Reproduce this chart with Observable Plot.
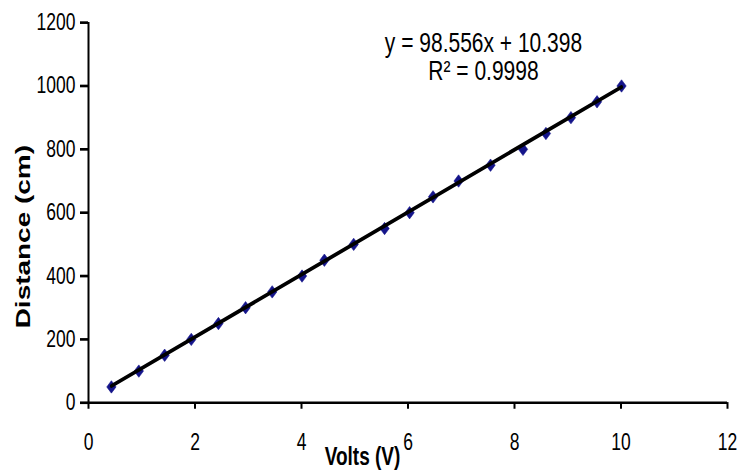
<!DOCTYPE html>
<html>
<head>
<meta charset="utf-8">
<script src="https://cdn.jsdelivr.net/npm/d3@7"></script>
<script src="https://cdn.jsdelivr.net/npm/@observablehq/plot@0.6"></script>
<style>
  html, body { margin: 0; padding: 0; background: #fff; }
  #chart svg { display: block; }
</style>
</head>
<body>
<div id="chart"></div>
<script>
const volts = [0.43, 0.945, 1.43, 1.93, 2.44, 2.95, 3.45, 4.01, 4.43, 4.98, 5.56, 6.03, 6.47, 6.95, 7.55, 8.16, 8.59, 9.06, 9.55, 10.01];
const distance = [50, 100, 150, 200, 250, 300, 350, 400, 450, 500, 550, 600, 650, 700, 750, 800, 850, 900, 950, 1000];
const slope = 98.556;
const intercept = 10.398;
const eqLines = ["y = 98.556x + 10.398", "R² = 0.9998"];
const xTicks = [0, 2, 4, 6, 8, 10, 12];
const yTicks = [0, 200, 400, 600, 800, 1000, 1200];
const xTitle = "Volts (V)";
const yTitle = "Distance (cm)";

const points = volts.map((v, i) => ({v, d: distance[i]}));
const xMin = d3.min(volts), xMax = d3.max(volts);
const trend = [{v: xMin, d: slope * xMin + intercept}, {v: xMax, d: slope * xMax + intercept}];

const font = "'Liberation Sans', Arial, sans-serif";
// The reference image is stretched vertically; draw in a shorter frame and stretch the SVG.
const W = 744, H = 470, S = 1.33;
const VH = Math.round(H / S);

const chart = Plot.plot({
  width: W,
  height: VH,
  marginLeft: 88,
  marginRight: 17,
  marginTop: 16.5,
  marginBottom: VH - 302,
  style: {fontFamily: font, fontSize: "17.5px", color: "#000", background: "#fff"},
  x: {domain: [0, 12], ticks: xTicks},
  y: {domain: [0, 1200], ticks: yTicks},
  marks: [
    Plot.axisX({ticks: xTicks, tickSize: 5, tickPadding: 18, stroke: "#000", strokeWidth: 2, fontSize: 17.5, label: null, tickFormat: d => String(d)}),
    Plot.axisY({ticks: yTicks, tickSize: 8, tickPadding: 5, stroke: "#000", strokeWidth: 2, fontSize: 17.5, label: null, tickFormat: d => String(d)}),
    Plot.ruleX([0], {stroke: "#000", strokeWidth: 2}),
    Plot.ruleY([0], {stroke: "#000", strokeWidth: 1.8}),
    Plot.dot(points, {x: "v", y: "d", symbol: "diamond2", r: 4.2, fill: "#14148a", stroke: "#14148a", strokeWidth: 0.5}),
    Plot.line(trend, {x: "v", y: "d", stroke: "#000", strokeWidth: 3}),
    Plot.text([eqLines.join("\n")], {frameAnchor: "top", lineAnchor: "middle", dx: 75.5, dy: 25.6, text: d => d, fontSize: 21, lineHeight: 1.0, fill: "#000", textAnchor: "middle"}),
    Plot.text([xTitle], {frameAnchor: "bottom", lineAnchor: "middle", textAnchor: "middle", dx: -45.5, dy: 41, text: d => d, fontSize: 19, fontWeight: "bold", fill: "#000"}),
    Plot.text([yTitle], {frameAnchor: "left", lineAnchor: "middle", textAnchor: "middle", dx: -65, dy: 18, rotate: -90, text: d => d, fontSize: 21, fontWeight: "bold", fill: "#000"})
  ]
});
chart.setAttribute("viewBox", `0 0 ${W} ${VH}`);
chart.setAttribute("preserveAspectRatio", "none");
chart.setAttribute("width", W);
chart.setAttribute("height", H);
chart.style.width = W + "px";
chart.style.height = H + "px";
chart.style.maxWidth = "none";
document.getElementById("chart").appendChild(chart);
</script>
</body>
</html>
